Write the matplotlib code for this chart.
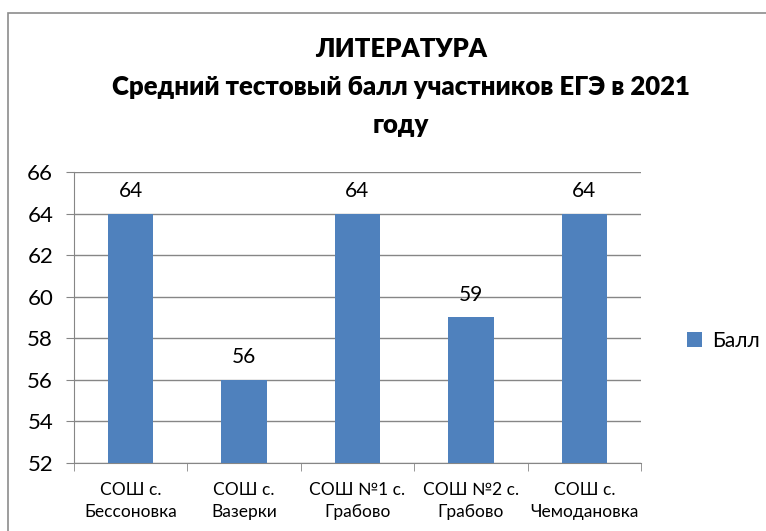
import matplotlib
matplotlib.use("Agg")
import matplotlib.pyplot as plt
from matplotlib.patches import Rectangle
import numpy as np

plt.rcParams['font.family'] = ['Lato', 'Open Sans', 'DejaVu Sans']

schools = ["СОШ с.\nБессоновка", "СОШ с.\nВазерки", "СОШ №1 с.\nГрабово",
           "СОШ №2 с.\nГрабово", "СОШ с.\nЧемодановка"]
scores = [64, 56, 64, 59, 64]
series_name = "Балл"
title = "ЛИТЕРАТУРА\nСредний тестовый балл участников ЕГЭ в 2021\nгоду"

W, H = 766, 531
fig = plt.figure(figsize=(W / 100, H / 100), dpi=100)

# outer chart border (left and top visible, rest runs off the picture)
fig.patches.append(Rectangle((8 / W, -0.1), 1.2, (H - 13) / H + 0.1,
                             transform=fig.transFigure, fill=False,
                             edgecolor="#8c8c8c", linewidth=1.2))

ax = fig.add_axes([74 / W, (H - 463) / H, (641 - 74) / W, (463 - 172) / H])
x = np.arange(len(schools))
bars = ax.bar(x, scores, width=0.4, color="#4F81BD", label=series_name, zorder=3)

ax.set_ylim(52, 66)
ax.set_xlim(-0.5, len(schools) - 0.5)
ax.set_yticks(range(52, 67, 2))
ax.tick_params(axis="y", labelsize=16, length=6, color="#868686", pad=9)
ax.grid(axis="y", color="#868686", linewidth=1, zorder=0)

# category labels centred, tick marks on the boundaries
ax.set_xticks(x)
ax.set_xticklabels(schools, fontsize=12.5, linespacing=1.45)
ax.tick_params(axis="x", length=0, pad=14)
ax.set_xticks(np.arange(-0.5, len(schools)), minor=True)
ax.tick_params(axis="x", which="minor", length=6, color="#868686")

for s in ["top", "right"]:
    ax.spines[s].set_visible(False)
for s in ["left", "bottom"]:
    ax.spines[s].set_color("#868686")

for b, v in zip(bars, scores):
    ax.text(b.get_x() + b.get_width() / 2, v + 0.6, str(v),
            ha="center", va="bottom", fontsize=15)

fig.text(401 / W, 1 - 87 / H, title, ha="center", va="center",
         fontsize=18.5, fontweight="heavy", linespacing=1.68)

fig.legend(handles=[bars], labels=[series_name], loc="center left",
           bbox_to_anchor=(668 / W, 1 - 341 / H), frameon=False,
           fontsize=15, handlelength=0.75, handleheight=0.75, handletextpad=0.45)

fig.savefig("out.png", dpi=100)
